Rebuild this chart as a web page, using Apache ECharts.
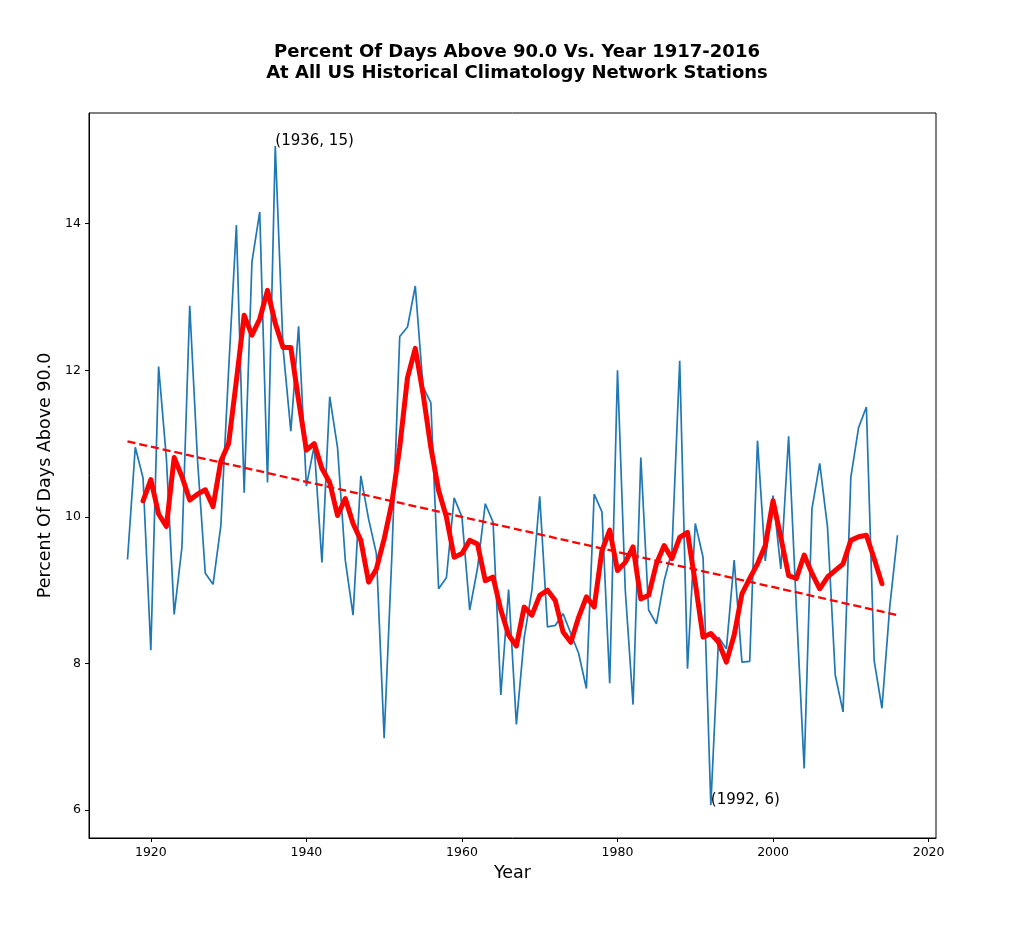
<!DOCTYPE html>
<html>
<head>
<meta charset="utf-8">
<script src="https://cdn.jsdelivr.net/npm/echarts@6/dist/echarts.min.js"></script>
<style>
  html, body { margin: 0; padding: 0; background: #fff; }
  #main { width: 1024px; height: 951px; }
</style>
</head>
<body>
<div id="main"></div>
<script>
// yearly percent of days above 90F, 1917-2016
var firstYear = 1917;
var pctDays = [
    9.42, 10.95, 10.53, 8.18, 12.05, 10.8, 8.67, 9.59, 12.88, 10.78,
    9.23, 9.08, 9.88, 12.0, 13.98, 10.33, 13.48, 14.16, 10.47, 15.06,
    12.3, 11.17, 12.6, 10.42, 10.97, 9.38, 11.64, 10.95, 9.41, 8.66,
    10.56, 9.97, 9.5, 6.98, 9.5, 12.46, 12.59, 13.15, 11.77, 11.56,
    9.02, 9.17, 10.26, 10.0, 8.73, 9.3, 10.18, 9.93, 7.57, 9.01,
    7.17, 8.35, 9.0, 10.28, 8.5, 8.52, 8.68, 8.41, 8.14, 7.66,
    10.31, 10.07, 7.73, 12.0, 9.0, 7.44, 10.81, 8.73, 8.54, 9.13,
    9.54, 12.13, 7.93, 9.91, 9.45, 6.07, 8.36, 8.2, 9.41, 8.02,
    8.03, 11.04, 9.4, 10.29, 9.29, 11.1, 8.75, 6.57, 10.11, 10.73,
    9.86, 7.84, 7.34, 10.54, 11.22, 11.5, 8.04, 7.39, 8.77, 9.75
];

// 5 year running mean as drawn (1919-2014)
var smoothFirstYear = 1919;
var smoothed = [
    10.22, 10.51, 10.04, 9.87, 10.81, 10.55, 10.23, 10.31, 10.37, 10.14,
    10.76, 11.0, 11.86, 12.75, 12.48, 12.7, 13.09, 12.64, 12.31, 12.31,
    11.59, 10.91, 11.0, 10.66, 10.47, 10.02, 10.25, 9.91, 9.68, 9.11,
    9.29, 9.70, 10.2, 10.95, 11.9, 12.3, 11.68, 10.95, 10.36, 10.0,
    9.45, 9.5, 9.68, 9.63, 9.13, 9.18, 8.73, 8.39, 8.24, 8.77,
    8.66, 8.93, 9.0, 8.86, 8.43, 8.29, 8.63, 8.91, 8.77, 9.54,
    9.82, 9.27, 9.38, 9.59, 8.88, 8.93, 9.36, 9.61, 9.43, 9.72,
    9.79, 9.1, 8.36, 8.41, 8.29, 8.02, 8.39, 8.95, 9.16, 9.36,
    9.61, 10.22, 9.72, 9.2, 9.16, 9.48, 9.23, 9.02, 9.18, 9.27,
    9.36, 9.68, 9.73, 9.75, 9.43, 9.09
];

// linear trend end points
var trendYears = [1917, 2016];
var trendValues = [11.03, 8.66];

var xTicks = [1920, 1940, 1960, 1980, 2000, 2020];
var yTicks = [6, 8, 10, 12, 14];

var annotations = [
    { year: 1936, value: 15.06, text: '(1936, 15)' },
    { year: 1992, value: 6.07, text: '(1992, 6)' }
];

function pairs(startYear, vals) {
    var out = [];
    for (var i = 0; i < vals.length; i++) out.push([startYear + i, vals[i]]);
    return out;
}

var font = 'DejaVu Sans';
var chartDom = document.getElementById('main');
var myChart = echarts.init(chartDom);

var option = {
    animation: false,
    backgroundColor: '#fff',
    textStyle: { fontFamily: font },
    title: {
        text: 'Percent Of Days Above 90.0 Vs. Year 1917-2016\nAt All US Historical Climatology Network Stations',
        left: 512,
        top: 37,
        textAlign: 'center',
        textStyle: {
            fontFamily: font,
            fontSize: 18,
            fontWeight: 'bold',
            color: '#000',
            lineHeight: 21,
            align: 'center'
        }
    },
    grid: {
        left: 89,
        right: 88,
        top: 113,
        bottom: 113,
        show: true,
        borderColor: '#000',
        borderWidth: 1,
        containLabel: false
    },
    xAxis: {
        type: 'value',
        min: 1912.05,
        max: 2020.95,
        name: 'Year',
        nameLocation: 'middle',
        nameGap: 26,
        nameTextStyle: { fontFamily: font, fontSize: 17.5, color: '#000' },
        splitLine: { show: false },
        axisLine: { show: true, onZero: false, lineStyle: { color: '#000', width: 1 } },
        axisTick: { show: true, length: 4, customValues: xTicks, lineStyle: { color: '#000' } },
        axisLabel: {
            customValues: xTicks,
            margin: 8,
            fontFamily: font,
            fontSize: 12.5,
            color: '#000',
            formatter: function (v) { return String(v); }
        }
    },
    yAxis: {
        type: 'value',
        min: 5.62,
        max: 15.51,
        name: 'Percent Of Days Above 90.0',
        nameLocation: 'middle',
        nameGap: 34,
        nameRotate: 90,
        nameTextStyle: { fontFamily: font, fontSize: 17.5, color: '#000' },
        splitLine: { show: false },
        axisLine: { show: true, onZero: false, lineStyle: { color: '#000', width: 1 } },
        axisTick: { show: true, length: 4, customValues: yTicks, lineStyle: { color: '#000' } },
        axisLabel: {
            customValues: yTicks,
            margin: 8,
            fontFamily: font,
            fontSize: 12.5,
            color: '#000',
            formatter: function (v) { return String(v); }
        }
    },
    series: [
        {
            name: 'yearly',
            type: 'line',
            data: pairs(firstYear, pctDays),
            showSymbol: false,
            symbol: 'none',
            lineStyle: { color: '#1f77b4', width: 1.7 },
            z: 2,
            markPoint: {
                symbol: 'circle',
                symbolSize: 0,
                data: annotations.map(function (a) {
                    return {
                        coord: [a.year, a.value],
                        label: {
                            show: true,
                            formatter: a.text,
                            position: [0, 0],
                            offset: [0, 3],
                            align: 'left',
                            verticalAlign: 'bottom',
                            fontFamily: font,
                            fontSize: 15,
                            color: '#000'
                        }
                    };
                })
            }
        },
        {
            name: 'trend',
            type: 'line',
            data: [[trendYears[0], trendValues[0]], [trendYears[1], trendValues[1]]],
            showSymbol: false,
            symbol: 'none',
            lineStyle: { color: '#ff0000', width: 2.3, type: [8, 4] },
            z: 3
        },
        {
            name: 'running mean',
            type: 'line',
            data: pairs(smoothFirstYear, smoothed),
            showSymbol: false,
            symbol: 'none',
            lineStyle: { color: '#ff0000', width: 5, join: 'round', cap: 'round' },
            z: 4
        }
    ]
};

option && myChart.setOption(option);
</script>
</body>
</html>
